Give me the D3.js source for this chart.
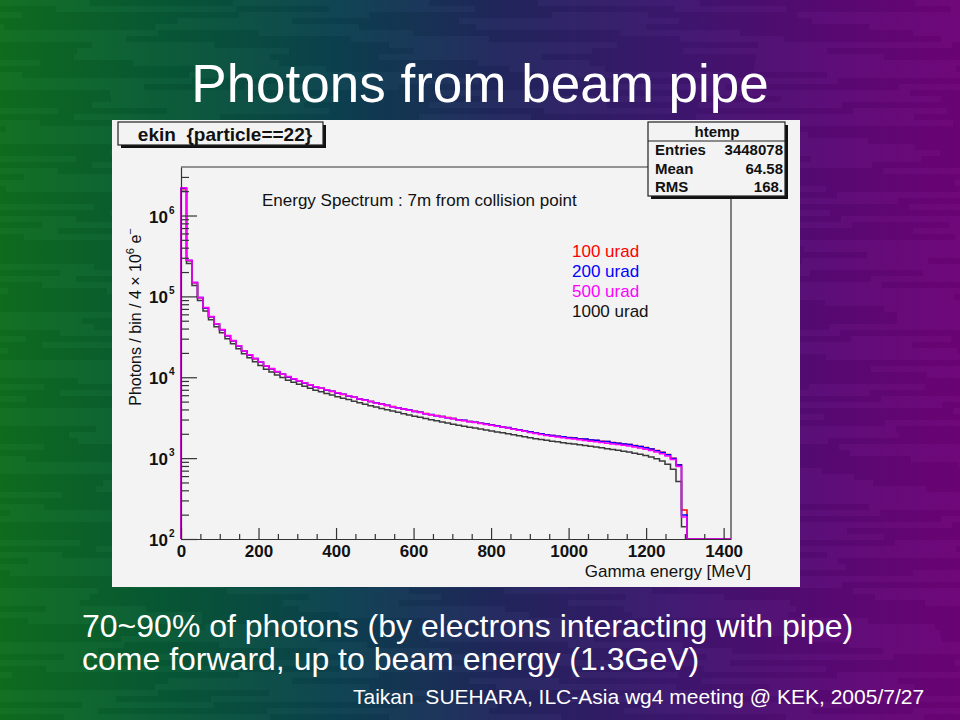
<!DOCTYPE html>
<html>
<head>
<meta charset="utf-8">
<script src="https://cdn.jsdelivr.net/npm/d3@7"></script>
<style>
  body { margin: 0; background: #000; }
  svg text { font-family: "Liberation Sans", Arial, Helvetica, sans-serif; white-space: pre; }
</style>
</head>
<body>
<div id="slide"></div>
<script>
const svgWidth = 960
const svgHeight = 720

// histogram: 100 bins from 0 to xMax MeV (ROOT htemp)
const binCount = 100
const xMax = 1419

const urad100 = [
  2.15e6, 2.76e5, 1.47e5, 9.6e4, 7.2e4, 5.6e4, 4.58e4, 3.86e4, 3.25e4, 2.82e4,
  2.45e4, 2.12e4, 1.89e4, 1.69e4, 1.53e4, 1.38e4, 1.27e4, 1.17e4, 1.09e4, 1.01e4,
  9550, 9020, 8530, 8050, 7610, 7290, 6980, 6690, 6410, 6140,
  5890, 5640, 5400, 5210, 5010, 4830, 4660, 4490, 4340, 4190,
  4050, 3920, 3790, 3680, 3560, 3450, 3360, 3260, 3170, 3080,
  2990, 2920, 2840, 2770, 2700, 2640, 2570, 2500, 2440, 2380,
  2300, 2230, 2170, 2110, 2050, 1990, 1950, 1900, 1870, 1830,
  1800, 1770, 1740, 1710, 1680, 1650, 1620, 1600, 1560, 1530,
  1500, 1470, 1430, 1390, 1350, 1300, 1240, 1180, 1110, 1000,
  830, 229, 0, 0, 0, 0, 0, 0, 0, 0
]
const urad200 = [
  2.18e6, 2.78e5, 1.48e5, 9.7e4, 7.2e4, 5.6e4, 4.6e4, 3.87e4, 3.26e4, 2.83e4,
  2.44e4, 2.13e4, 1.89e4, 1.70e4, 1.53e4, 1.39e4, 1.27e4, 1.17e4, 1.09e4, 1.01e4,
  9500, 9050, 8500, 8080, 7600, 7300, 6950, 6700, 6400, 6150,
  5870, 5650, 5390, 5220, 5000, 4840, 4650, 4500, 4330, 4200,
  4040, 3930, 3780, 3690, 3550, 3460, 3350, 3270, 3160, 3090,
  2980, 2930, 2830, 2780, 2690, 2650, 2560, 2510, 2430, 2390,
  2290, 2240, 2160, 2120, 2040, 2000, 1940, 1910, 1860, 1840,
  1790, 1780, 1730, 1720, 1670, 1660, 1610, 1600, 1550, 1530,
  1490, 1470, 1420, 1390, 1340, 1300, 1230, 1170, 1100, 990,
  820, 198, 0, 0, 0, 0, 0, 0, 0, 0
]
const urad500 = [
  2.2e6, 2.8e5, 1.49e5, 9.7e4, 7.3e4, 5.65e4, 4.6e4, 3.9e4, 3.28e4, 2.84e4,
  2.46e4, 2.13e4, 1.9e4, 1.7e4, 1.54e4, 1.39e4, 1.28e4, 1.18e4, 1.09e4, 1.02e4,
  9600, 9050, 8550, 8080, 7650, 7300, 7000, 6700, 6420, 6150,
  5900, 5650, 5400, 5200, 5000, 4820, 4650, 4480, 4330, 4180,
  4040, 3900, 3780, 3660, 3540, 3430, 3340, 3240, 3150, 3060,
  2970, 2900, 2820, 2750, 2680, 2610, 2550, 2480, 2420, 2350,
  2280, 2210, 2150, 2080, 2020, 1960, 1910, 1870, 1830, 1790,
  1750, 1720, 1690, 1650, 1620, 1590, 1560, 1530, 1500, 1470,
  1440, 1410, 1370, 1330, 1290, 1240, 1190, 1130, 1060, 960,
  790, 187, 0, 0, 0, 0, 0, 0, 0, 0
]
const urad1000 = [
  2.0e6, 2.55e5, 1.36e5, 8.9e4, 6.6e4, 5.15e4, 4.2e4, 3.55e4, 3.0e4, 2.6e4,
  2.25e4, 1.95e4, 1.74e4, 1.55e4, 1.40e4, 1.26e4, 1.16e4, 1.07e4, 9900, 9200,
  8700, 8200, 7750, 7300, 6900, 6600, 6300, 6050, 5750, 5500,
  5300, 5050, 4850, 4650, 4450, 4300, 4120, 3970, 3830, 3680,
  3550, 3420, 3300, 3200, 3080, 2980, 2900, 2800, 2720, 2630,
  2550, 2480, 2410, 2350, 2290, 2230, 2170, 2110, 2060, 2000,
  1950, 1890, 1840, 1790, 1740, 1700, 1660, 1620, 1590, 1550,
  1520, 1490, 1460, 1430, 1400, 1370, 1340, 1310, 1280, 1250,
  1220, 1190, 1150, 1120, 1080, 1030, 980, 920, 840, 730,
  515, 142, 0, 0, 0, 0, 0, 0, 0, 0
]

const seriesNames = ["100 urad", "200 urad", "500 urad", "1000 urad"]
const seriesColors = ["#ff0000", "#0000ff", "#ff00ff", "#3a3a3a"]
const seriesData = [urad100, urad200, urad1000, urad500]   // drawing order, magenta last
const drawColors = ["#ff0000", "#0000ff", "#3a3a3a", "#ff00ff"]

const xMajor = [0, 200, 400, 600, 800, 1000, 1200, 1400]
const xMinor = d3.range(50, 1419, 50).filter(d => d % 200 !== 0)
const yMajor = [1e2, 1e3, 1e4, 1e5, 1e6]
const yExponents = ["2", "3", "4", "5", "6"]
const yMinor = [2, 3, 4, 5, 6, 7, 8, 9].flatMap(m => [1e2, 1e3, 1e4, 1e5, 1e6].map(p => m * p)).filter(d => d < 3.98e6)

const statsRows = [["Entries", "3448078"], ["Mean", "64.58"], ["RMS", "168."]]

let svg = d3.select("#slide")
  .append("svg")
  .attr("width", svgWidth)
  .attr("height", svgHeight)

// ---- slide background ----
let defs = svg.append("defs")
let grad = defs.append("linearGradient").attr("id", "bg").attr("x1", 0).attr("x2", 1).attr("y1", 0).attr("y2", 0)
grad.append("stop").attr("offset", "0%").attr("stop-color", "#106f1f")
grad.append("stop").attr("offset", "17%").attr("stop-color", "#085a36")
grad.append("stop").attr("offset", "35%").attr("stop-color", "#0c4250")
grad.append("stop").attr("offset", "52%").attr("stop-color", "#22275e")
grad.append("stop").attr("offset", "70%").attr("stop-color", "#3e1770")
grad.append("stop").attr("offset", "86%").attr("stop-color", "#5a0a76")
grad.append("stop").attr("offset", "100%").attr("stop-color", "#6e0478")

svg.append("rect").attr("width", svgWidth).attr("height", svgHeight).attr("fill", "url(#bg)")

// horizontal streaks
let streaks = svg.append("g")
for (let r = 0; r < svgHeight / 6; r++) {
  let x0 = -((r * 71) % 190)
  let k = 0
  while (x0 < svgWidth) {
    let w = 90 + ((r * 37 + k * 53) % 140)
    let light = (r + k) % 2 === 0
    streaks.append("rect")
      .attr("x", x0).attr("y", r * 6)
      .attr("width", w).attr("height", 6)
      .attr("fill", light ? "#ffffff" : "#000000")
      .attr("opacity", light ? 0.02 : 0.035)
    x0 += w
    k++
  }
}

// ---- slide texts ----
svg.append("text")
  .attr("x", 480).attr("y", 102)
  .attr("text-anchor", "middle")
  .attr("fill", "#ffffff")
  .attr("font-size", "53px")
  .text("Photons from beam pipe")

svg.append("text")
  .attr("x", 82).attr("y", 637)
  .attr("fill", "#ffffff")
  .attr("font-size", "32px")
  .text("70~90% of photons (by electrons interacting with pipe)")

svg.append("text")
  .attr("x", 82).attr("y", 670)
  .attr("fill", "#ffffff")
  .attr("font-size", "32px")
  .text("come forward, up to beam energy (1.3GeV)")

svg.append("text")
  .attr("x", 353).attr("y", 704)
  .attr("fill", "#ffffff")
  .attr("font-size", "21px")
  .text("Taikan  SUEHARA, ILC-Asia wg4 meeting @ KEK, 2005/7/27")

// ---- ROOT canvas ----
svg.append("rect")
  .attr("x", 112).attr("y", 120)
  .attr("width", 688).attr("height", 467)
  .attr("fill", "#f3f3f3")

let frame = { left: 181, top: 167, right: 731, bottom: 539 }

let x = d3.scaleLinear().domain([0, xMax]).range([frame.left, frame.right])
let y = d3.scaleLog().domain([100, 3.98e6]).range([frame.bottom, frame.top])

let plot = svg.append("g")

// frame top + right
plot.append("path")
  .attr("d", `M${frame.left},${frame.top}H${frame.right}V${frame.bottom}`)
  .attr("fill", "none")
  .attr("stroke", "#333")
  .attr("stroke-width", 1.2)

// histograms as steps
let binWidth = xMax / binCount
let stepLine = d3.line()
  .x(d => x(d[0]))
  .y(d => y(Math.max(d[1], 100)))
  .curve(d3.curveStepAfter)

seriesData.forEach((values, i) => {
  let pts = [[0, 100]]
  values.forEach((v, b) => pts.push([b * binWidth, v]))
  pts.push([xMax, 100])
  plot.append("path")
    .attr("d", stepLine(pts))
    .attr("fill", "none")
    .attr("stroke", drawColors[i])
    .attr("stroke-width", 1.5)
})

// axes
function styleAxis(g) {
  g.selectAll("line, path").attr("stroke", "#333").attr("stroke-width", 1.2)
  g.selectAll("text").attr("fill", "#111")
}

let xAxis = plot.append("g")
  .attr("transform", `translate(0, ${frame.bottom})`)
  .call(d3.axisBottom(x).tickValues(xMajor).tickSizeInner(-11).tickSizeOuter(0).tickPadding(6).tickFormat(d3.format("d")))
  .call(styleAxis)
xAxis.selectAll("text")
  .attr("font-family", "Liberation Sans, Arial, sans-serif")
  .attr("font-size", "17px")
  .attr("font-weight", "bold")

plot.append("g")
  .attr("transform", `translate(0, ${frame.bottom})`)
  .call(d3.axisBottom(x).tickValues(xMinor).tickSizeInner(-5).tickSizeOuter(0).tickFormat(""))
  .call(styleAxis)
  .call(g => g.select(".domain").remove())

plot.append("g")
  .attr("transform", `translate(${frame.left}, 0)`)
  .call(d3.axisLeft(y).tickValues(yMajor).tickSizeInner(-16).tickSizeOuter(0).tickFormat(""))
  .call(styleAxis)

plot.append("g")
  .attr("transform", `translate(${frame.left}, 0)`)
  .call(d3.axisLeft(y).tickValues(yMinor).tickSizeInner(-8).tickSizeOuter(0).tickFormat(""))
  .call(styleAxis)
  .call(g => g.select(".domain").remove())

yMajor.forEach((d, i) => {
  plot.append("text")
    .attr("x", 168).attr("y", y(d) + 7)
    .attr("text-anchor", "end")
    .attr("font-size", "17px")
    .attr("font-weight", "bold")
    .attr("fill", "#111")
    .text("10")
  plot.append("text")
    .attr("x", 169).attr("y", y(d) - 2)
    .attr("font-size", "10px")
    .attr("font-weight", "bold")
    .attr("fill", "#111")
    .text(yExponents[i])
})

// axis titles
plot.append("text")
  .attr("x", 751).attr("y", 577)
  .attr("text-anchor", "end")
  .attr("font-size", "17px")
  .attr("fill", "#111")
  .text("Gamma energy [MeV]")

let yTitle = plot.append("text")
  .attr("transform", "translate(141, 317) rotate(-90)")
  .attr("text-anchor", "middle")
  .attr("font-size", "16px")
  .attr("fill", "#111")
yTitle.append("tspan").text("Photons / bin / 4 \u00d7 10")
yTitle.append("tspan").attr("font-size", "11px").attr("dy", "-7").text("6")
yTitle.append("tspan").attr("dy", "7").text(" e")
yTitle.append("tspan").attr("font-size", "11px").attr("dy", "-7").text("\u2212")

plot.append("text")
  .attr("x", 262).attr("y", 206)
  .attr("font-size", "17px")
  .attr("fill", "#111")
  .text("Energy Spectrum : 7m from collision point")

// legend texts
seriesNames.forEach((name, i) => {
  plot.append("text")
    .attr("x", 572).attr("y", 257 + i * 20)
    .attr("font-size", "17px")
    .attr("fill", i === 3 ? "#111" : seriesColors[i])
    .text(name)
})

// title box
function paveBox(x0, y0, w, h) {
  svg.append("rect").attr("x", x0 + 3).attr("y", y0 + 3).attr("width", w).attr("height", h).attr("fill", "#111")
  svg.append("rect").attr("x", x0).attr("y", y0).attr("width", w).attr("height", h)
    .attr("fill", "#f3f3f3").attr("stroke", "#222").attr("stroke-width", 1.2)
}

paveBox(118, 122, 205, 23)
svg.append("text")
  .attr("x", 225).attr("y", 141)
  .attr("text-anchor", "middle")
  .attr("font-size", "19px")
  .attr("font-weight", "bold")
  .attr("fill", "#111")
  .text("ekin  {particle==22}")

// stats box
paveBox(648, 122, 137, 74)
svg.append("line").attr("x1", 648).attr("x2", 785).attr("y1", 141).attr("y2", 141).attr("stroke", "#222").attr("stroke-width", 1.2)
svg.append("text")
  .attr("x", 717).attr("y", 137)
  .attr("text-anchor", "middle")
  .attr("font-size", "15px")
  .attr("font-weight", "bold")
  .attr("fill", "#111")
  .text("htemp")
statsRows.forEach((row, i) => {
  svg.append("text")
    .attr("x", 655).attr("y", 155 + i * 18.5)
    .attr("font-size", "15px").attr("font-weight", "bold").attr("fill", "#111")
    .text(row[0])
  svg.append("text")
    .attr("x", 783).attr("y", 155 + i * 18.5)
    .attr("text-anchor", "end")
    .attr("font-size", "15px").attr("font-weight", "bold").attr("fill", "#111")
    .text(row[1])
})
</script>
</body>
</html>
